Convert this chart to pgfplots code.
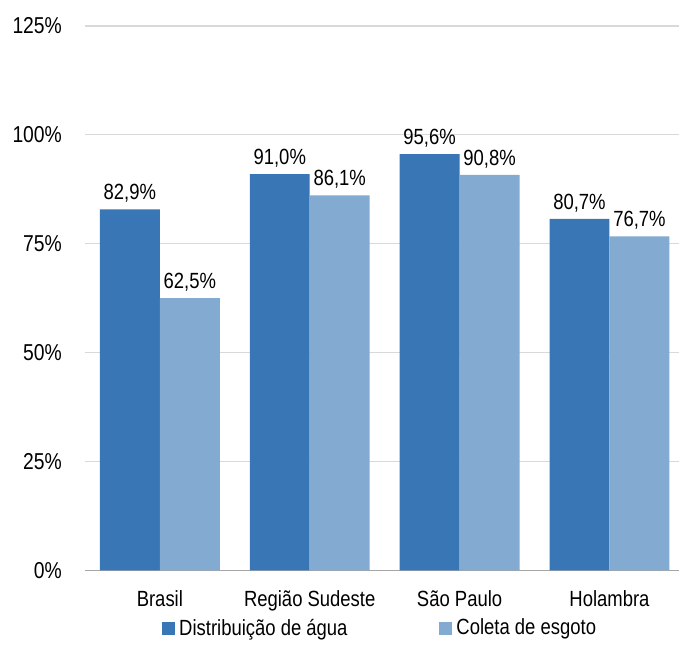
\documentclass[border=0pt]{standalone}
\usepackage{fontspec}
\setmainfont{Liberation Sans}[FakeStretch=0.84]
\usepackage{pgfplots}
\pgfplotsset{compat=1.18}

\definecolor{agua}{RGB}{56,118,182}
\definecolor{esgoto}{RGB}{131,170,209}
\definecolor{gridc}{RGB}{217,217,217}
\definecolor{axisc}{RGB}{166,166,166}

\begin{document}
\begin{tikzpicture}
\begin{axis}[
    scale only axis,
    width=297.5pt, height=272.5pt,
    ybar=0pt, bar width=30pt,
    xmin=-0.5, xmax=3.4667,
    ymin=0, ymax=125,
    xtick={0,1,2,3},
    xticklabels={Brasil, Região Sudeste, São Paulo, Holambra},
    ytick={0,25,...,125},
    yticklabel={\pgfmathprintnumber{\tick}\%},
    /pgf/number format/assume math mode=true,
    tick style={draw=none},
    ymajorgrids,
    grid style={gridc, line width=0.6pt},
    axis lines*=left,
    x axis line style={axisc, line width=0.6pt, -},
    y axis line style={draw=none},
    ticklabel style={font=\fontsize{11}{13}\selectfont},
    xticklabel style={yshift=-2pt},
    yticklabel style={xshift=-8pt, font=\fontsize{11.5}{13}\selectfont},
    nodes near coords={\pgfmathprintnumber[fixed,fixed zerofill,precision=1,use comma]{\pgfplotspointmeta}\%},
    every node near coord/.append style={font=\fontsize{11}{13}\selectfont, black},
    legend style={at={(0.5,0)}, anchor=north, yshift=-20pt, xshift=-0.5pt,
        draw=none, fill=none, font=\fontsize{11}{13}\selectfont,
        /tikz/every even column/.append style={column sep=44pt}},
    legend columns=2,
    legend image code/.code={\fill[#1] (-2pt,-3.25pt) rectangle (4.5pt,3.25pt);},
    clip=false,
]
\addplot[fill=agua, draw=none] coordinates {(0,82.9) (1,91.0) (2,95.6) (3,80.7)};
\addlegendentry{Distribuição de água}
\addplot[fill=esgoto, draw=none] coordinates {(0,62.5) (1,86.1) (2,90.8) (3,76.7)};
\addlegendentry{Coleta de esgoto}
\end{axis}
\path (-42.5pt,-37pt) rectangle (297.5pt,285.5pt);
\end{tikzpicture}
\end{document}
